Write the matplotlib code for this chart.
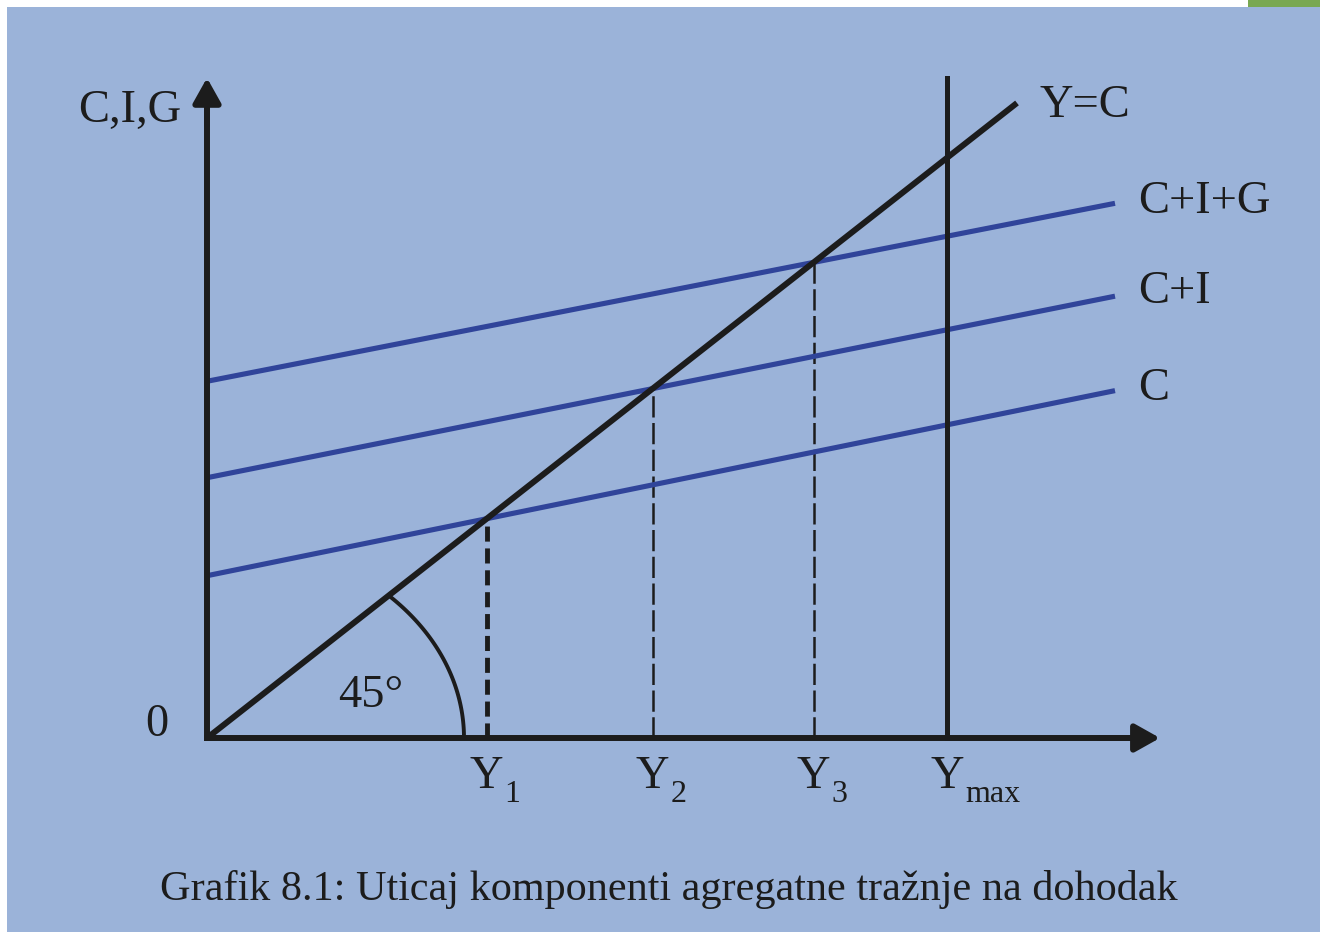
import numpy as np
import matplotlib; matplotlib.use("Agg")
import matplotlib.pyplot as plt
from matplotlib.patches import Rectangle

# aggregate demand lines: C, C+I, C+I+G  (value = intercept + slope * Y)
LINE_LABELS = ["C", "C+I", "C+I+G"]
INTERCEPTS = [2.07, 3.32, 4.55]
SLOPES = [0.26, 0.255, 0.25]
X_END = 9.08          # where the demand lines stop
EQ_END = 8.10         # end of the 45-degree line Y=C
Y_MAX = 7.40          # full-capacity income
AXIS_TOP = 8.42
AXIS_RIGHT = 9.53
ARC_R = 2.57
SUBS = ["1", "2", "3", "max"]
CAPTION = "Grafik 8.1: Uticaj komponenti agregatne tražnje na dohodak"

BG = "#9BB3D9"; NAVY = "#30449A"; INK = "#1C1C1C"
plt.rcParams["font.family"] = ["Liberation Serif", "DejaVu Serif"]

fig = plt.figure(figsize=(13.2, 9.32), dpi=100, facecolor="white")
fig.patches.append(Rectangle((7/1320, 0), 1, 925/932, transform=fig.transFigure,
                             facecolor=BG, edgecolor="none", zorder=-10))
fig.patches.append(Rectangle((1248/1320, 925/932), 1, 1, transform=fig.transFigure,
                             facecolor="#79A851", edgecolor="none", zorder=-10))
ax = fig.add_axes([0, 0, 1, 1]); ax.set_axis_off()
ax.patch.set_alpha(0)
ax.set_xlim(-2.07, 11.13); ax.set_ylim(-194/78.4, 738/78.4)

# axes with arrow heads
ax.plot([0, 0], [0, AXIS_TOP - 0.2], color=INK, lw=4.3, solid_capstyle="projecting", zorder=5)
ax.plot([0, AXIS_RIGHT - 0.2], [0, 0], color=INK, lw=4.3, solid_capstyle="projecting", zorder=5)
hp = dict(arrowstyle="-|>,head_length=0.75,head_width=0.42", color=INK, lw=4.3,
          mutation_scale=20, shrinkA=0, shrinkB=0)
ax.annotate("", xy=(0, AXIS_TOP), xytext=(0, AXIS_TOP - 0.6), arrowprops=hp, zorder=6)
ax.annotate("", xy=(AXIS_RIGHT, 0), xytext=(AXIS_RIGHT - 0.6, 0), arrowprops=hp, zorder=6)

# demand lines + equilibrium points
xs = np.array([0, X_END])
eq_x = []
for a, b, lab in zip(INTERCEPTS, SLOPES, LINE_LABELS):
    ax.plot(xs, a + b * xs, color=NAVY, lw=3.7, solid_capstyle="butt", zorder=3)
    eq_x.append(a / (1 - b))

ax.plot([0, EQ_END], [0, EQ_END], color=INK, lw=4.3, solid_capstyle="butt", zorder=4)
ax.plot([Y_MAX, Y_MAX], [0, AXIS_TOP], color=INK, lw=3.6, zorder=4)

# dashed drop lines
ax.plot([eq_x[0]] * 2, [0, eq_x[0]], color=INK, lw=3.5, dashes=(3.1, 1.4), zorder=2)
for xe in eq_x[1:]:
    ax.plot([xe] * 2, [0, xe], color=INK, lw=1.8, dashes=(8.5, 2.2), zorder=2)

# 45 degree arc
th = np.linspace(0, np.pi / 4, 60)
ax.plot(ARC_R * np.cos(th), ARC_R * np.sin(th), color=INK, lw=2.8, zorder=4)

tk = dict(color=INK, fontsize=33.5, va="baseline")
ax.text(-0.26, 7.857, "C,I,G", ha="right", **tk)
ax.text(-0.50, 0.03, "0", ha="center", **tk)
ax.text(1.31, 0.395, "45°", ha="left", **tk)
ax.text(8.33, 7.92, "Y=C", ha="left", **tk)
for lab, yb in zip(LINE_LABELS, [4.31, 5.55, 6.70]):
    ax.text(9.31, yb, lab, ha="left", **tk)

for xv, s in zip(eq_x + [Y_MAX], SUBS):
    ax.text(xv, -0.638, "Y", ha="center", **tk)
    ax.text(xv + 0.18, -0.82, s, ha="left", color=INK, fontsize=23, va="baseline")

ax.text(4.62, -2.066, CAPTION, ha="center", va="baseline", color=INK, fontsize=30.4)

fig.savefig("out.png", dpi=100, facecolor="white")
